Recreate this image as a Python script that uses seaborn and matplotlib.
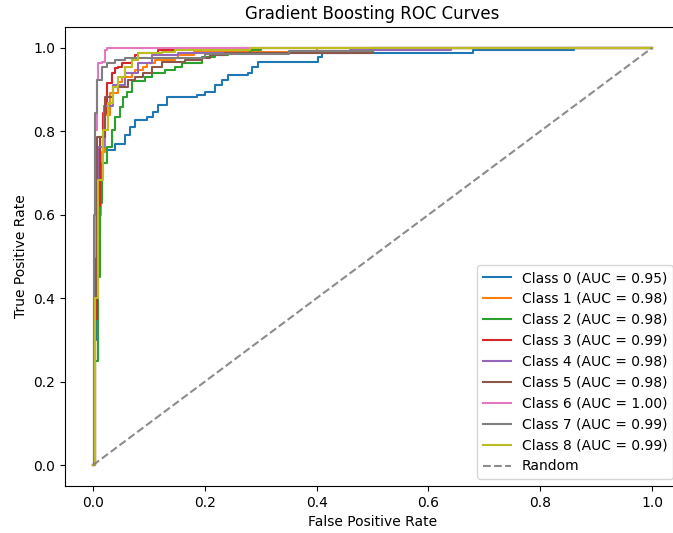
import matplotlib
matplotlib.use("Agg")
import matplotlib.pyplot as plt
import seaborn as sns
import numpy as np

classes = ["Class 0", "Class 1", "Class 2", "Class 3", "Class 4",
           "Class 5", "Class 6", "Class 7", "Class 8"]
aucs = [0.95, 0.98, 0.98, 0.99, 0.98, 0.98, 1.00, 0.99, 0.99]

fpr0 = [0.0, 0.002, 0.006, 0.012, 0.018, 0.039, 0.057, 0.066, 0.075, 0.096, 0.107, 0.116, 0.132,
        0.186, 0.200, 0.218, 0.230, 0.241, 0.277, 0.284, 0.295, 0.402, 0.410, 0.680, 0.860, 1.0]
tpr0 = [0.0, 0.30, 0.55, 0.70, 0.755, 0.770, 0.790, 0.810, 0.827, 0.835, 0.846, 0.863, 0.882,
        0.887, 0.894, 0.911, 0.923, 0.935, 0.940, 0.954, 0.966, 0.978, 0.988, 0.995, 1.0, 1.0]

fpr1 = [0.0, 0.003, 0.008, 0.015, 0.022, 0.030, 0.045, 0.052, 0.070, 0.075, 0.089, 0.096,
        0.111, 0.146, 0.152, 0.180, 0.400, 1.0]
tpr1 = [0.0, 0.35, 0.60, 0.75, 0.84, 0.892, 0.918, 0.930, 0.940, 0.947, 0.954, 0.964,
        0.971, 0.976, 0.983, 0.990, 1.0, 1.0]

fpr2 = [0.0, 0.004, 0.009, 0.0125, 0.016, 0.025, 0.034, 0.039, 0.048, 0.054, 0.061, 0.070,
        0.093, 0.105, 0.129, 0.146, 0.159, 0.195, 0.218, 0.241, 0.280, 0.300, 1.0]
tpr2 = [0.0, 0.25, 0.45, 0.628, 0.724, 0.763, 0.803, 0.835, 0.858, 0.882, 0.894, 0.921,
        0.930, 0.940, 0.947, 0.954, 0.964, 0.978, 0.983, 0.988, 0.994, 1.0, 1.0]

fpr3 = [0.0, 0.003, 0.008, 0.0125, 0.018, 0.025, 0.034, 0.039, 0.045, 0.052, 0.070, 0.075,
        0.080, 0.116, 0.150, 1.0]
tpr3 = [0.0, 0.35, 0.62, 0.787, 0.844, 0.916, 0.940, 0.952, 0.955, 0.964, 0.971, 0.983,
        0.988, 0.995, 1.0, 1.0]

fpr4 = [0.0, 0.003, 0.009, 0.020, 0.035, 0.057, 0.080, 0.105, 0.152, 0.460, 0.640, 1.0]
tpr4 = [0.0, 0.40, 0.763, 0.86, 0.91, 0.940, 0.964, 0.983, 0.988, 0.994, 1.0, 1.0]

fpr5 = [0.0, 0.003, 0.007, 0.021, 0.036, 0.063, 0.075, 0.089, 0.105, 0.123, 0.164, 0.195,
        0.209, 0.236, 0.500, 1.0]
tpr5 = [0.0, 0.40, 0.787, 0.882, 0.906, 0.923, 0.930, 0.940, 0.954, 0.966, 0.971, 0.976,
        0.983, 0.988, 1.0, 1.0]

fpr6 = [0.0, 0.001, 0.004, 0.007, 0.009, 0.016, 0.021, 0.025, 1.0]
tpr6 = [0.0, 0.50, 0.803, 0.923, 0.964, 0.966, 0.995, 1.0, 1.0]

fpr7 = [0.0, 0.001, 0.004, 0.007, 0.016, 0.025, 0.039, 0.057, 0.200, 0.350, 0.500, 1.0]
tpr7 = [0.0, 0.60, 0.844, 0.923, 0.954, 0.964, 0.971, 0.976, 0.985, 0.993, 1.0, 1.0]

fpr8 = [0.0, 0.004, 0.009, 0.018, 0.027, 0.036, 0.045, 0.057, 0.070, 0.080, 0.123, 0.146,
        0.280, 1.0]
tpr8 = [0.0, 0.40, 0.683, 0.803, 0.868, 0.906, 0.930, 0.954, 0.971, 0.988, 0.990, 0.995,
        1.0, 1.0]

fprs = [fpr0, fpr1, fpr2, fpr3, fpr4, fpr5, fpr6, fpr7, fpr8]
tprs = [tpr0, tpr1, tpr2, tpr3, tpr4, tpr5, tpr6, tpr7, tpr8]

random_x = [0.0, 1.0]
random_y = [0.0, 1.0]

fig = plt.figure(figsize=(6.73, 5.33), dpi=100)
ax = fig.add_axes([65 / 673, 1 - 486 / 533, (680 - 65) / 673, (486 - 27) / 533])

for i, (name, auc) in enumerate(zip(classes, aucs)):
    sns.lineplot(x=fprs[i], y=tprs[i], ax=ax, color=f"C{i}", lw=1.5,
                 drawstyle="steps-post", label=f"{name} (AUC = {auc:.2f})",
                 estimator=None, sort=False)

sns.lineplot(x=random_x, y=random_y, ax=ax, color="gray", linestyle="--",
             lw=1.5, alpha=0.9, label="Random", estimator=None, sort=False)

ax.set_xlabel("False Positive Rate")
ax.set_ylabel("True Positive Rate")
ax.set_title("Gradient Boosting ROC Curves")
ax.legend(loc="lower right")

fig.savefig("out.png", dpi=100)
